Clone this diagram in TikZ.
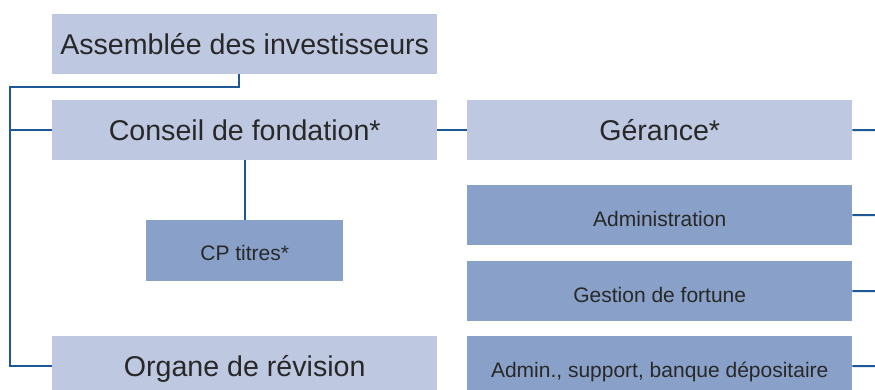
\documentclass[tikz,border=0pt]{standalone}
\usepackage{fontspec}
\setmainfont{Liberation Sans}
\usetikzlibrary{calc}
\definecolor{lightbox}{RGB}{190,200,225}
\definecolor{darkbox}{RGB}{137,160,200}
\definecolor{linec}{RGB}{28,88,150}
\definecolor{txt}{RGB}{40,40,40}
\begin{document}
\begin{tikzpicture}[x=1pt,y=-1pt,
  bigbox/.style={fill=lightbox, draw=none, anchor=north west, inner sep=0pt,
    minimum width=385pt, minimum height=60pt, text=txt,
    text height=21pt, text depth=0pt,
    font=\fontsize{28.6}{28.6}\selectfont},
  smallbox/.style={fill=darkbox, draw=none, anchor=north west, inner sep=0pt,
    minimum width=385pt, minimum height=60pt, text=txt,
    text height=22pt, text depth=0pt,
    font=\fontsize{21}{21}\selectfont},
  conn/.style={draw=linec, line width=2pt}]
\clip (0,0) rectangle (875,390);
\fill[white] (0,0) rectangle (875,390);
\node[bigbox] (assemblee) at (52,14) {Assemblée des investisseurs};
\node[bigbox] (conseil) at (52,100) {Conseil de fondation*};
\node[bigbox] (organe) at (52,336) {Organe de révision};
\node[smallbox, minimum width=197pt, minimum height=61pt, text height=20pt] (cp) at (146,220) {CP titres*};
\node[bigbox] (gerance) at (467,100) {Gérance*};
\node[smallbox] (admin) at (467,185) {Administration};
\node[smallbox] (gestion) at (467,261) {Gestion de fortune};
\node[smallbox] (support) at (467,336) {Admin., support, banque dépositaire};
\coordinate (r1) at (875,130);
\coordinate (r2) at (875,215);
\coordinate (r3) at (875,291);
\coordinate (r4) at (875,366);
\coordinate (lx) at (10,0);
\draw[conn] ($(assemblee.south)+(-6,0)$) |- (10,87) |- (organe.west);
\draw[conn] (lx |- conseil.west) -- (conseil.west);
\draw[conn] (conseil.east) -- (gerance.west);
\draw[conn] (conseil.south) -- (cp.north);
\draw[conn] (gerance.east) -- (r1);
\draw[conn] (admin.east) -- (r2);
\draw[conn] (gestion.east) -- (r3);
\draw[conn] (support.east) -- (r4);
\end{tikzpicture}
\end{document}
